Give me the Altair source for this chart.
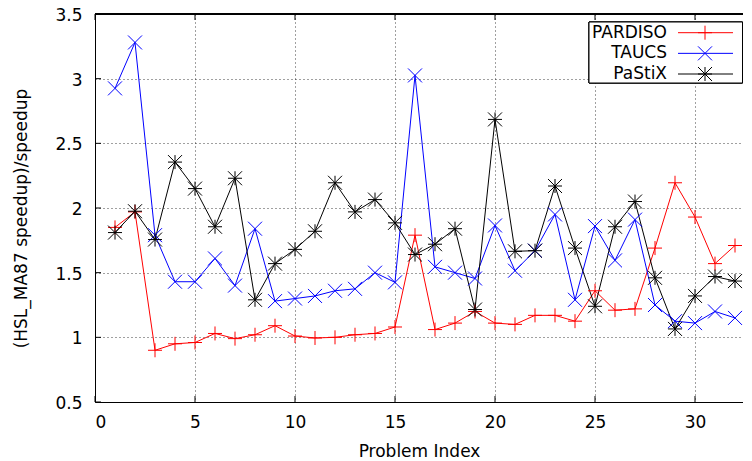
import altair as alt
import pandas as pd

# ---------------- data ----------------
problems = list(range(1, 33))
solvers = ["PARDISO", "TAUCS", "PaStiX"]
pardiso = [1.85, 1.97, 0.90, 0.95, 0.96, 1.03, 0.99, 1.02, 1.09, 1.01,
           0.995, 1.00, 1.02, 1.03, 1.08, 1.79, 1.06, 1.11, 1.20, 1.11,
           1.10, 1.17, 1.17, 1.125, 1.36, 1.21, 1.22, 1.69, 2.195, 1.93, 1.57, 1.71]
taucs = [2.925, 3.28, 1.79, 1.43, 1.43, 1.61, 1.40, 1.84, 1.28, 1.30,
         1.32, 1.36, 1.375, 1.50, 1.425, 3.025, 1.545, 1.50, 1.455, 1.865,
         1.515, 1.67, 1.95, 1.29, 1.86, 1.595, 1.91, 1.25, 1.125, 1.11, 1.20, 1.15]
pastix = [1.81, 1.975, 1.756, 2.355, 2.15, 1.855, 2.23, 1.29, 1.57, 1.68,
          1.82, 2.195, 1.97, 2.065, 1.885, 1.64, 1.72, 1.84, 1.215, 2.685,
          1.665, 1.67, 2.17, 1.69, 1.24, 1.855, 2.05, 1.46, 1.065, 1.32, 1.47, 1.435]
x_ticks = [0, 5, 10, 15, 20, 25, 30]
y_ticks = [0.5, 1, 1.5, 2, 2.5, 3, 3.5]

colors = ["#ff0000", "#0000ff", "#000000"]
shapes = ["M-1,0L1,0M0,-1L0,1",
          "M-1,-1L1,1M-1,1L1,-1",
          "M-1,-1L1,1M-1,1L1,-1M-1,0L1,0M0,-1L0,1"]

rows = []
for name, vals in zip(solvers, [pardiso, taucs, pastix]):
    for p, v in zip(problems, vals):
        rows.append({"problem": p, "value": v, "solver": name})
df = pd.DataFrame(rows)
leg_df = pd.DataFrame({"solver": solvers})
xt_df = pd.DataFrame({"v": x_ticks})
yt_df = pd.DataFrame({"v": y_ticks})

FONT = "DejaVu Sans"
W, H = 648, 388
X_MAX = 32.4  # 20 px per problem index, right side of the frame is cropped

color_scale = alt.Scale(domain=solvers, range=colors)
shape_scale = alt.Scale(domain=solvers, range=shapes)

x_enc = alt.X("problem:Q", scale=alt.Scale(domain=[0, X_MAX], nice=False, zero=False),
              axis=alt.Axis(values=x_ticks, title="Problem Index", grid=True, ticks=False,
                            tickSize=0, labelPadding=12, titleY=41, titleBaseline="top"))
y_enc = alt.Y("value:Q", scale=alt.Scale(domain=[0.5, 3.5], nice=False, zero=False),
              axis=alt.Axis(values=y_ticks, title="(HSL_MA87 speedup)/speedup", grid=True,
                            ticks=False, tickSize=0, labelPadding=13, labelOffset=1.5,
                            format="~g",
                            titleX=-74, titleY=204, titleAngle=270,
                            titleBaseline="middle", titleAlign="center"))

base = alt.Chart(df)
lines = base.mark_line(strokeWidth=1).encode(
    x=x_enc, y=y_enc,
    color=alt.Color("solver:N", scale=color_scale, legend=None),
    detail="solver:N", order="problem:Q")
points = base.mark_point(filled=False, size=196, strokeWidth=1, opacity=1).encode(
    x="problem:Q", y="value:Q",
    color=alt.Color("solver:N", scale=color_scale, legend=None),
    shape=alt.Shape("solver:N", scale=shape_scale, legend=None))

# inward ticks and top frame line
lt = alt.Chart(yt_df).mark_rule(color="black", strokeWidth=1).encode(
    y=alt.Y("v:Q"), x=alt.value(0), x2=alt.value(6))
bt = alt.Chart(xt_df).mark_rule(color="black", strokeWidth=1).encode(
    x=alt.X("v:Q"), y=alt.value(H - 6), y2=alt.value(H))
tt = alt.Chart(xt_df).mark_rule(color="black", strokeWidth=1).encode(
    x=alt.X("v:Q"), y=alt.value(0), y2=alt.value(6))
top_line = alt.Chart(xt_df).mark_rule(color="black", strokeWidth=1).encode(
    x=alt.value(0), x2=alt.value(W), y=alt.value(0))

main = alt.layer(lines, points, lt, bt, tt, top_line)

# legend (label left, sample right, as in the reference)
leg_y = alt.Y("solver:N", scale=alt.Scale(type="point", domain=solvers,
                                          range=[18.7, 60], padding=0), axis=None)
box = alt.Chart(leg_df).mark_rect(fill="white", stroke="black", strokeWidth=1).encode(
    x=alt.value(494), x2=alt.value(647.5), y=alt.value(8), y2=alt.value(69))
leg_text = alt.Chart(leg_df).mark_text(align="right", baseline="middle", fontSize=17,
                                       font=FONT, color="black").encode(
    x=alt.value(572), y=leg_y, text="solver:N")
leg_line = alt.Chart(leg_df).mark_rule(strokeWidth=1).encode(
    x=alt.value(583), x2=alt.value(638), y=leg_y,
    color=alt.Color("solver:N", scale=color_scale, legend=None))
leg_pts = alt.Chart(leg_df).mark_point(filled=False, size=196, strokeWidth=1, opacity=1).encode(
    x=alt.value(610), y=leg_y,
    color=alt.Color("solver:N", scale=color_scale, legend=None),
    shape=alt.Shape("solver:N", scale=shape_scale, legend=None))
legend = alt.layer(box, leg_text, leg_line, leg_pts)

chart = alt.layer(main, legend).resolve_scale(y="independent").properties(
    width=W, height=H,
    padding={"left": 87, "top": 6, "right": 0, "bottom": 59},
    autosize=alt.AutoSizeParams(type="none"),
).configure_view(stroke=None).configure_axis(
    labelFont=FONT, titleFont=FONT, labelFontSize=17, titleFontSize=17,
    labelColor="black", titleColor="black", titleFontWeight="normal",
    domainColor="black", domainWidth=1,
    gridColor="black", gridDash=[1, 3], gridWidth=1, gridOpacity=0.75,
)

chart.save("out.html", embed_options={"renderer": "svg", "actions": False})
